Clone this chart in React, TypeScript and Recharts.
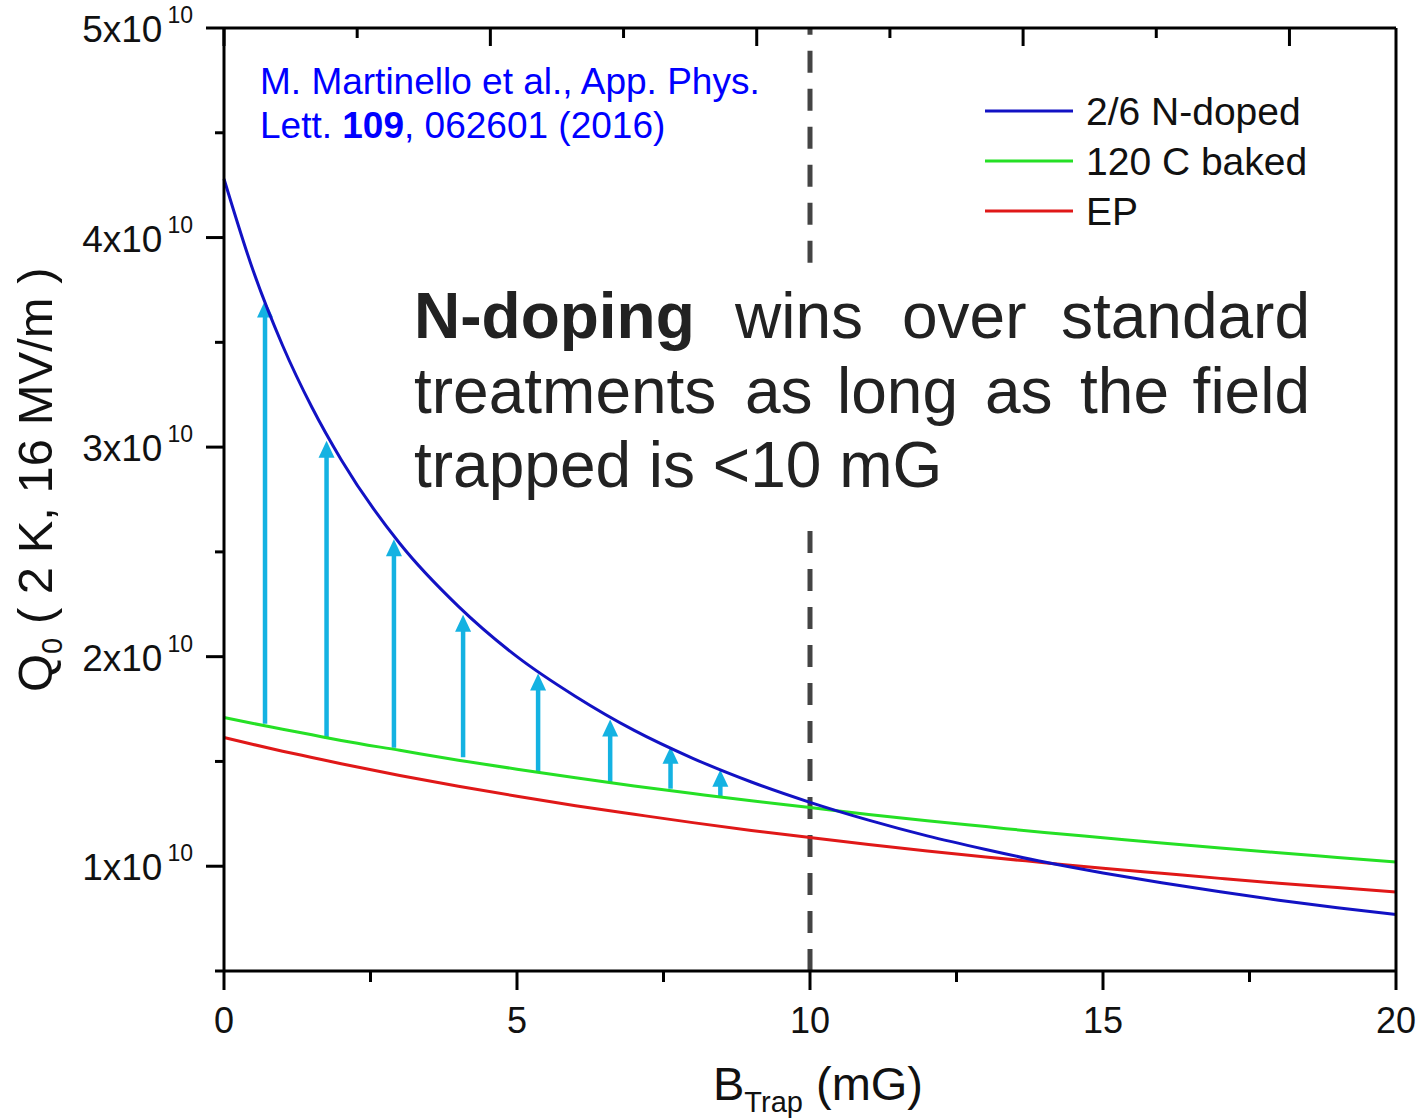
import React from 'react';
import { ComposedChart, Line, XAxis, YAxis, ReferenceLine } from 'recharts';

const FONT = '"Liberation Sans", Arial, Helvetica, sans-serif';

// B_trap (mG)
const B_TRAP = [0, 0.5, 1, 1.5, 2, 3, 4, 5, 6, 7, 8, 9, 10, 11, 12, 13, 14, 15, 16, 17, 18, 19, 20];
// Q0 in units of 1e10
const N_DOPED = [4.28, 3.84, 3.485, 3.19, 2.94, 2.54, 2.24, 2.0, 1.81, 1.648, 1.515, 1.402, 1.305, 1.22, 1.145, 1.08, 1.02, 0.968, 0.921, 0.878, 0.838, 0.802, 0.77];
const BAKED_120C = [1.71, 1.681, 1.654, 1.627, 1.6, 1.553, 1.506, 1.463, 1.422, 1.383, 1.347, 1.312, 1.28, 1.247, 1.217, 1.189, 1.161, 1.136, 1.111, 1.087, 1.064, 1.042, 1.02];
const EP = [1.614, 1.581, 1.549, 1.519, 1.489, 1.433, 1.382, 1.334, 1.289, 1.248, 1.208, 1.171, 1.137, 1.104, 1.073, 1.044, 1.017, 0.99, 0.966, 0.942, 0.919, 0.898, 0.877];

const SERIES_NAMES = ['2/6 N-doped', '120 C baked', 'EP'];
const SERIES_COLORS = ['#1212C4', '#25E025', '#E01818'];

// improvement arrows: B position, from (120C baked) to (N-doped)
const ARROW_B = [0.7, 1.75, 2.9, 4.08, 5.36, 6.59, 7.62, 8.47];
const ARROW_FROM = [1.68, 1.61, 1.565, 1.52, 1.45, 1.4, 1.37, 1.33];
const ARROW_TO = [3.7, 3.03, 2.56, 2.2, 1.92, 1.7, 1.57, 1.46];

const X_TICKS = [0, 2.5, 5, 7.5, 10, 12.5, 15, 17.5, 20];
const X_MAJOR = [0, 5, 10, 15, 20];
const Y_TICKS = [0.5, 1, 1.5, 2, 2.5, 3, 3.5, 4, 4.5, 5];
const Y_MAJOR = [1, 2, 3, 4, 5];
const Y_EXP = '10';

const LIMIT_B = 10;
const LIMIT_SEGMENTS = [
  [0.5, 2.66],
  [3.88, 5.0],
];

const data = B_TRAP.map((b, i) => ({
  b,
  nDoped: N_DOPED[i],
  baked: BAKED_120C[i],
  ep: EP[i],
}));

const ARROW_COLOR = '#14B2E2';
const AXIS_W = 3;

const BottomTick = (props: any) => {
  const { x, y, payload } = props;
  const major = X_MAJOR.includes(payload.value);
  return (
    <g>
      <line x1={x} x2={x} y1={y} y2={y + (major ? 19 : 11)} stroke="#000" strokeWidth={AXIS_W} />
      {major && (
        <text x={x} y={y + 62} textAnchor="middle" fontFamily={FONT} fontSize={36} fill="#111">
          {payload.value}
        </text>
      )}
    </g>
  );
};

const TopTick = (props: any) => {
  const { x, y, payload } = props;
  const major = X_MAJOR.includes(payload.value);
  return <line x1={x} x2={x} y1={y} y2={y + (major ? 18 : 10)} stroke="#000" strokeWidth={AXIS_W} />;
};

const LeftTick = (props: any) => {
  const { x, y, payload } = props;
  const v = payload.value;
  const major = Y_MAJOR.includes(v);
  return (
    <g>
      <line x1={x} x2={x - (major ? 18 : 9)} y1={y} y2={y} stroke="#000" strokeWidth={AXIS_W} />
      {major && (
        <text x={x - 31} y={y + 14} textAnchor="end" fontFamily={FONT} fontSize={37} fill="#111">
          {`${v}x10`}
          <tspan fontSize={23} dx={5} dy={-19}>
            {Y_EXP}
          </tspan>
        </text>
      )}
    </g>
  );
};

const RightTick = (props: any) => {
  const { x, y, payload } = props;
  const major = Y_MAJOR.includes(payload.value);
  return <line x1={x} x2={x - (major ? 18 : 10)} y1={y} y2={y} stroke="#000" strokeWidth={AXIS_W} />;
};

const ArrowShape = (p: any) => {
  const { x1, y1, x2, y2 } = p;
  const head = 17;
  const hw = 8;
  return (
    <g>
      <line x1={x1} y1={y1} x2={x2} y2={y2 + head - 1} stroke={ARROW_COLOR} strokeWidth={4.5} />
      <polygon points={`${x2},${y2} ${x2 - hw},${y2 + head} ${x2 + hw},${y2 + head}`} fill={ARROW_COLOR} />
    </g>
  );
};

const App = () => {
  return (
    <div style={{ position: 'absolute', left: 0, top: 0, width: 1422, height: 1120, background: '#fff' }}>
      <ComposedChart
        width={1422}
        height={1120}
        data={data}
        margin={{ top: 27, right: 25, bottom: 148, left: 223 }}
      >
        <XAxis
          dataKey="b"
          type="number"
          domain={[0, 20]}
          ticks={X_TICKS}
          interval={0}
          height={1}
          tickSize={0}
          tickMargin={0}
          tickLine={false}
          axisLine={{ stroke: '#000', strokeWidth: AXIS_W }}
          tick={BottomTick}
        />
        <XAxis
          xAxisId="top"
          orientation="top"
          type="number"
          domain={[0, 20]}
          ticks={X_TICKS}
          interval={0}
          height={1}
          tickSize={0}
          tickMargin={0}
          tickLine={false}
          axisLine={{ stroke: '#000', strokeWidth: AXIS_W }}
          tick={TopTick}
        />
        <YAxis
          type="number"
          domain={[0.5, 5]}
          ticks={Y_TICKS}
          interval={0}
          width={1}
          tickSize={0}
          tickMargin={0}
          tickLine={false}
          axisLine={{ stroke: '#000', strokeWidth: AXIS_W }}
          tick={LeftTick}
        />
        <YAxis
          yAxisId="right"
          orientation="right"
          type="number"
          domain={[0.5, 5]}
          ticks={Y_TICKS}
          interval={0}
          width={1}
          tickSize={0}
          tickMargin={0}
          tickLine={false}
          axisLine={{ stroke: '#000', strokeWidth: AXIS_W }}
          tick={RightTick}
        />

        {LIMIT_SEGMENTS.map((s, i) => (
          <ReferenceLine
            key={`lim${i}`}
            segment={[
              { x: LIMIT_B, y: s[0] },
              { x: LIMIT_B, y: s[1] },
            ]}
            stroke="#444"
            strokeWidth={5}
            strokeDasharray="22 16"
          />
        ))}

        {ARROW_B.map((b, i) => (
          <ReferenceLine
            key={`arr${i}`}
            segment={[
              { x: b, y: ARROW_FROM[i] },
              { x: b, y: ARROW_TO[i] },
            ]}
            shape={ArrowShape}
          />
        ))}

        <Line dataKey="ep" type="monotone" stroke={SERIES_COLORS[2]} strokeWidth={3} dot={false} isAnimationActive={false} />
        <Line dataKey="baked" type="monotone" stroke={SERIES_COLORS[1]} strokeWidth={3} dot={false} isAnimationActive={false} />
        <Line dataKey="nDoped" type="monotone" stroke={SERIES_COLORS[0]} strokeWidth={3} dot={false} isAnimationActive={false} />

        {/* legend */}
        <g>
          {SERIES_NAMES.map((n, i) => (
            <g key={n}>
              <line x1={985} x2={1073} y1={111 + i * 50} y2={111 + i * 50} stroke={SERIES_COLORS[i]} strokeWidth={3} />
              <text x={1086} y={125 + i * 50} fontFamily={FONT} fontSize={39} fill="#111">
                {n}
              </text>
            </g>
          ))}
        </g>

        {/* citation */}
        <text x={260} y={94} fontFamily={FONT} fontSize={37} fill="#0000FF">
          M. Martinello et al., App. Phys.
        </text>
        <text x={260} y={138} fontFamily={FONT} fontSize={37} fill="#0000FF">
          Lett. <tspan fontWeight="bold">109</tspan>, 062601 (2016)
        </text>

        {/* annotation */}
        <g fontFamily={FONT} fontSize={64} fill="#222">
          <text x={414} y={338} fontWeight="bold">N-doping</text>
          <text x={735} y={338}>wins</text>
          <text x={902} y={338}>over</text>
          <text x={1310} y={338} textAnchor="end">standard</text>
          <text x={414} y={413}>treatments</text>
          <text x={745} y={413}>as</text>
          <text x={837} y={413}>long</text>
          <text x={985} y={413}>as</text>
          <text x={1080} y={413}>the</text>
          <text x={1310} y={413} textAnchor="end">field</text>
          <text x={414} y={487}>trapped is &lt;10 mG</text>
        </g>

        {/* axis titles */}
        <text x={713} y={1100} fontFamily={FONT} fontSize={47} fill="#111">
          B<tspan fontSize={29} dy={12}>Trap</tspan>
          <tspan dy={-12}> (mG)</tspan>
        </text>
        <text x={52} y={692} transform="rotate(-90, 52, 692)" fontFamily={FONT} fontSize={49} fill="#111">
          Q<tspan fontSize={29} dy={10}>0</tspan>
          <tspan dy={-10}> ( 2 K, 16 MV/m )</tspan>
        </text>
      </ComposedChart>
    </div>
  );
};

export default App;
